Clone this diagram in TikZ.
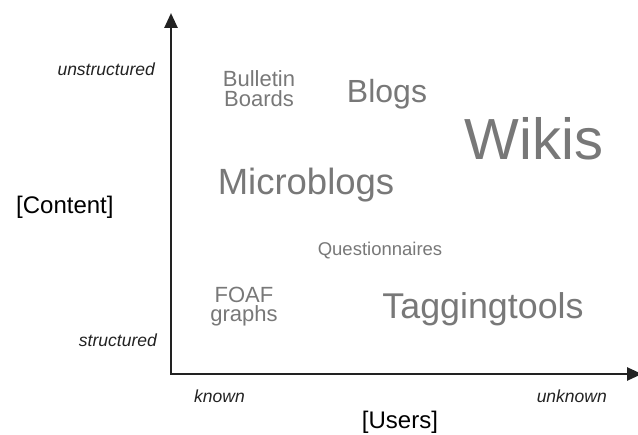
\documentclass[tikz,border=0pt]{standalone}
\usepackage{fontspec}
\setmainfont{Liberation Sans}
\usepackage{xcolor}
\usepackage{tikz}
\usetikzlibrary{arrows.meta,positioning}
\definecolor{toolgray}{HTML}{787878}
\definecolor{axisdark}{HTML}{222222}
\newcommand{\fsz}[1]{\fontsize{#1}{#1}\selectfont}

\begin{document}
\begin{tikzpicture}[x=1pt, y=-1pt,
  tool/.style={inner sep=0pt, anchor=base, text=toolgray, align=center},
  endlab/.style={inner sep=0pt, font={\fsz{17.5}\itshape}, text=axisdark},
  axtitle/.style={inner sep=0pt, font={\fsz{24}}, text=black},
  axis/.style={{Triangle[length=15pt,width=13pt]}-{Triangle[length=15pt,width=13pt]}, line width=2.6pt, draw=axisdark}]
\useasboundingbox (0,0) rectangle (638,435);
% the two axes
\coordinate (ytip) at (171,13);
\coordinate (origin) at (171,374);
\coordinate (xtip) at (642,374);
\draw[axis] (ytip) -- (origin) -- (xtip);
% axis ends and titles
\node[endlab, anchor=base east] (unstr) at (155,76) {unstructured};
\node[endlab, anchor=base east] (str) at (157,347) {structured};
\node[endlab, anchor=base west] (known) at (194,403) {known};
\node[endlab, anchor=base east] (unknown) at (607,403) {unknown};
\node[axtitle, anchor=base west] (content) at (16,214) {[Content]};
\node[axtitle, anchor=base] (users) at (400,429) {[Users]};
% the tools (base of a two-line node is its last line)
\node[tool, font={\fsz{22}}] (bboards) at (259,107) {Bulletin\\[-2pt]Boards};
\node[tool, font={\fsz{32}}] (blogs) at (387,103) {Blogs};
\node[tool, font={\fsz{58}}] (wikis) at (534,160) {Wikis};
\node[tool, font={\fsz{36.5}}] (micro) at (306,195) {Microblogs};
\node[tool, font={\fsz{18.5}}] (quest) at (380,256) {Questionnaires};
\node[tool, font={\fsz{22}}] (foaf) at (244,322) {FOAF\\[-2.5pt]graphs};
\node[tool, font={\fsz{35.8}}] (tagging) at (483,319) {Taggingtools};
\end{tikzpicture}
\end{document}
